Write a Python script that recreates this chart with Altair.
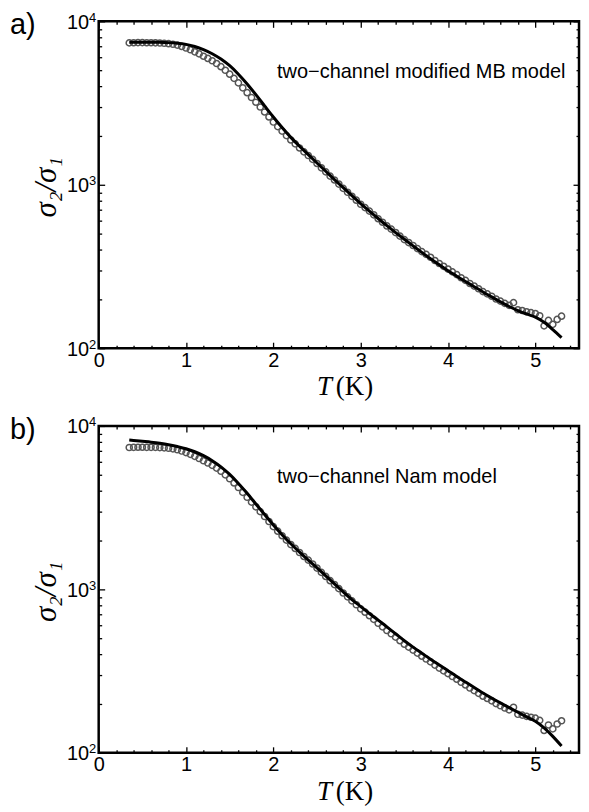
import altair as alt
import pandas as pd

# ---- measured data (circles), shared by both panels ----
T_data = [0.35, 0.40, 0.45, 0.50, 0.55, 0.60, 0.65, 0.70, 0.75, 0.80,
          0.85, 0.90, 0.95, 1.00, 1.05, 1.10, 1.15, 1.20, 1.25, 1.30,
          1.35, 1.40, 1.45, 1.50, 1.55, 1.60, 1.65, 1.70, 1.75, 1.80,
          1.85, 1.90, 1.95, 2.00, 2.05, 2.10, 2.15, 2.20, 2.25, 2.30,
          2.35, 2.40, 2.45, 2.50, 2.55, 2.60, 2.65, 2.70, 2.75, 2.80,
          2.85, 2.90, 2.95, 3.00, 3.05, 3.10, 3.15, 3.20, 3.25, 3.30,
          3.35, 3.40, 3.45, 3.50, 3.55, 3.60, 3.65, 3.70, 3.75, 3.80,
          3.85, 3.90, 3.95, 4.00, 4.05, 4.10, 4.15, 4.20, 4.25, 4.30,
          4.35, 4.40, 4.45, 4.50, 4.55, 4.60, 4.65, 4.70, 4.75, 4.80,
          4.85, 4.90, 4.95, 5.00, 5.05, 5.10, 5.15, 5.20, 5.25, 5.30]
ratio_data = [7380, 7400, 7410, 7410, 7400, 7400, 7390, 7370, 7340, 7300,
              7240, 7150, 7020, 6870, 6700, 6510, 6320, 6120, 5930, 5740,
              5520, 5280, 5020, 4750, 4480, 4200, 3920, 3660, 3420, 3200,
              2990, 2790, 2600, 2420, 2270, 2130, 2000, 1880, 1780, 1680,
              1590, 1510, 1430, 1350, 1270, 1200, 1130, 1070, 1010, 950,
              900, 850, 805, 760, 725, 690, 655, 620, 590, 560,
              535, 510, 485, 462, 443, 425, 407, 390, 375, 360,
              344, 330, 317, 305, 293, 282, 270, 260, 249, 240,
              231, 222, 215, 208, 200, 194, 188, 183, 190, 172,
              170, 167, 165, 163, 158, 137, 148, 140, 150, 157]

# ---- model curves ----
T_fit = [0.35, 0.4, 0.5, 0.6, 0.7, 0.8, 0.9, 1.0, 1.1, 1.2, 1.3, 1.4, 1.5,
         1.6, 1.7, 1.8, 1.9, 2.0, 2.1, 2.2, 2.3, 2.4, 2.5, 2.6, 2.7, 2.8,
         2.9, 3.0, 3.1, 3.2, 3.3, 3.4, 3.5, 3.6, 3.7, 3.8, 3.9, 4.0, 4.1,
         4.2, 4.3, 4.4, 4.5, 4.6, 4.7, 4.8, 4.9, 5.0, 5.1, 5.2, 5.3]
fit_mb = [7450, 7450, 7450, 7450, 7440, 7410, 7350, 7230, 7020, 6720, 6340,
          5880, 5350, 4750, 4140, 3560, 3040, 2600, 2240, 1950, 1720, 1530,
          1360, 1210, 1075, 960, 858, 768, 690, 622, 562, 510, 464, 423, 386,
          353, 324, 298, 276, 256, 238, 221, 206, 192, 180, 170, 162, 155,
          144, 130, 116]
fit_nam = [8200, 8150, 8050, 7950, 7830, 7680, 7480, 7250, 6950, 6580, 6130,
           5620, 5050, 4450, 3870, 3330, 2870, 2480, 2160, 1900, 1690, 1510,
           1355, 1210, 1080, 965, 865, 785, 712, 648, 590, 535, 485, 443, 407,
           374, 345, 318, 293, 271, 251, 232, 216, 202, 189, 177, 166, 156,
           142, 126, 110]

# ---- axes ticks ----
x_major = [0, 1, 2, 3, 4, 5]
x_minor = [0.2, 0.4, 0.6, 0.8, 1.2, 1.4, 1.6, 1.8, 2.2, 2.4, 2.6, 2.8,
           3.2, 3.4, 3.6, 3.8, 4.2, 4.4, 4.6, 4.8, 5.2, 5.4]
y_major = [100, 1000, 10000]
y_minor = [200, 300, 400, 500, 600, 700, 800, 900,
           2000, 3000, 4000, 5000, 6000, 7000, 8000, 9000]

panel_labels = ["a)", "b)"]
model_labels = ["two\u2212channel modified MB model", "two\u2212channel Nam model"]

W, H = 482, 328
SANS = "Liberation Sans"
SERIF = "Liberation Serif"

xs = alt.Scale(domain=[0, 5.5], nice=False, zero=False)
ys = alt.Scale(type="log", domain=[100, 10000], nice=False)

df_data = pd.DataFrame({"T": T_data, "s": ratio_data})


def tick_axis(orient, values, size, labels=False, **kw):
    return alt.Axis(orient=orient, values=values, tickSize=size, offset=-size,
                    domain=False, grid=False, labels=labels, title=None,
                    tickColor="black", tickWidth=1.3, **kw)


def panel(fit_vals, plabel, mlabel):
    df_fit = pd.DataFrame({"T": T_fit, "s": fit_vals})

    ax_b = tick_axis("bottom", x_major, 6, labels=True, labelFont=SANS,
                     labelFontSize=20, labelColor="black", labelPadding=2,
                     labelFlush=False, format="d")
    ax_l = alt.Axis(orient="left", values=y_major, tickSize=6, offset=-6,
                    domain=False, grid=False, tickColor="black", tickWidth=1.3,
                    labelFont=SANS, labelFontSize=20, labelColor="black",
                    labelPadding=10, labelOffset=1, labelFlush=False,
                    labelOverlap=False, labelExpr="'10'",
                    title="\u03c3\u2082/\u03c3\u2081", titleFont=SERIF,
                    titleFontStyle="italic", titleFontWeight="normal",
                    titleFontSize=31, titleColor="black", titleAngle=270,
                    titleX=-49, titleY=166, titleAlign="center",
                    titleBaseline="alphabetic")
    ax_exp = alt.Axis(orient="left", values=y_major, ticks=False, offset=0,
                      domain=False, grid=False, labelFont=SANS,
                      labelFontSize=13, labelColor="black", labelPadding=3,
                      labelOffset=-4, labelFlush=False, labelOverlap=False,
                      labelExpr="datum.value == 100 ? '2' : (datum.value == 1000 ? '3' : '4')",
                      title=None)

    circles = alt.Chart(df_data).mark_point(
        shape="circle", filled=False, size=38, strokeWidth=1.5,
        color="#555555", opacity=1
    ).encode(
        x=alt.X("T:Q", scale=xs, axis=ax_b),
        y=alt.Y("s:Q", scale=ys, axis=ax_l),
    )
    line = alt.Chart(df_fit).mark_line(
        color="black", strokeWidth=3, interpolate="monotone"
    ).encode(
        x=alt.X("T:Q", scale=xs, axis=tick_axis("bottom", x_minor, 3)),
        y=alt.Y("s:Q", scale=ys, axis=tick_axis("left", y_minor, 3)),
    )
    ghost_major = alt.Chart(df_fit).mark_line(opacity=0).encode(
        x=alt.X("T:Q", scale=xs, axis=tick_axis("top", x_major, 6)),
        y=alt.Y("s:Q", scale=ys, axis=tick_axis("right", y_major, 6)),
    )
    ghost_minor = alt.Chart(df_fit).mark_line(opacity=0).encode(
        x=alt.X("T:Q", scale=xs, axis=tick_axis("top", x_minor, 3)),
        y=alt.Y("s:Q", scale=ys, axis=tick_axis("right", y_minor, 3)),
    )
    ghost_exp = alt.Chart(df_fit).mark_line(opacity=0).encode(
        x=alt.X("T:Q", scale=xs, axis=None),
        y=alt.Y("s:Q", scale=ys, axis=ax_exp),
    )
    lab = alt.Chart(pd.DataFrame({"t": [plabel]})).mark_text(
        font=SANS, fontSize=29, align="left", baseline="alphabetic", color="black"
    ).encode(text="t:N", x=alt.value(-89), y=alt.value(13))
    ann = alt.Chart(pd.DataFrame({"t": [mlabel]})).mark_text(
        font=SANS, fontSize=20, align="left", baseline="alphabetic", color="black"
    ).encode(text="t:N", x=alt.value(179), y=alt.value(57))
    tt = alt.Chart(pd.DataFrame({"t": ["T"]})).mark_text(
        font=SERIF, fontSize=27, fontStyle="italic", align="left",
        baseline="alphabetic", color="black"
    ).encode(text="t:N", x=alt.value(219), y=alt.value(375))
    tk = alt.Chart(pd.DataFrame({"t": ["(K)"]})).mark_text(
        font=SERIF, fontSize=27, align="left", baseline="alphabetic", color="black"
    ).encode(text="t:N", x=alt.value(238), y=alt.value(375))

    return alt.layer(circles, line, ghost_major, ghost_minor, ghost_exp,
                     lab, ann, tt, tk).properties(
        width=W, height=H
    ).resolve_axis(x="independent", y="independent")


chart = alt.vconcat(
    panel(fit_mb, panel_labels[0], model_labels[0]),
    panel(fit_nam, panel_labels[1], model_labels[1]),
    spacing=78, bounds="flush"
).properties(
    padding={"left": 0, "top": 0, "right": 0, "bottom": 0}
).configure_view(stroke="black", strokeWidth=2.5)

chart.save("out.html", embed_options={"renderer": "svg", "actions": False})
